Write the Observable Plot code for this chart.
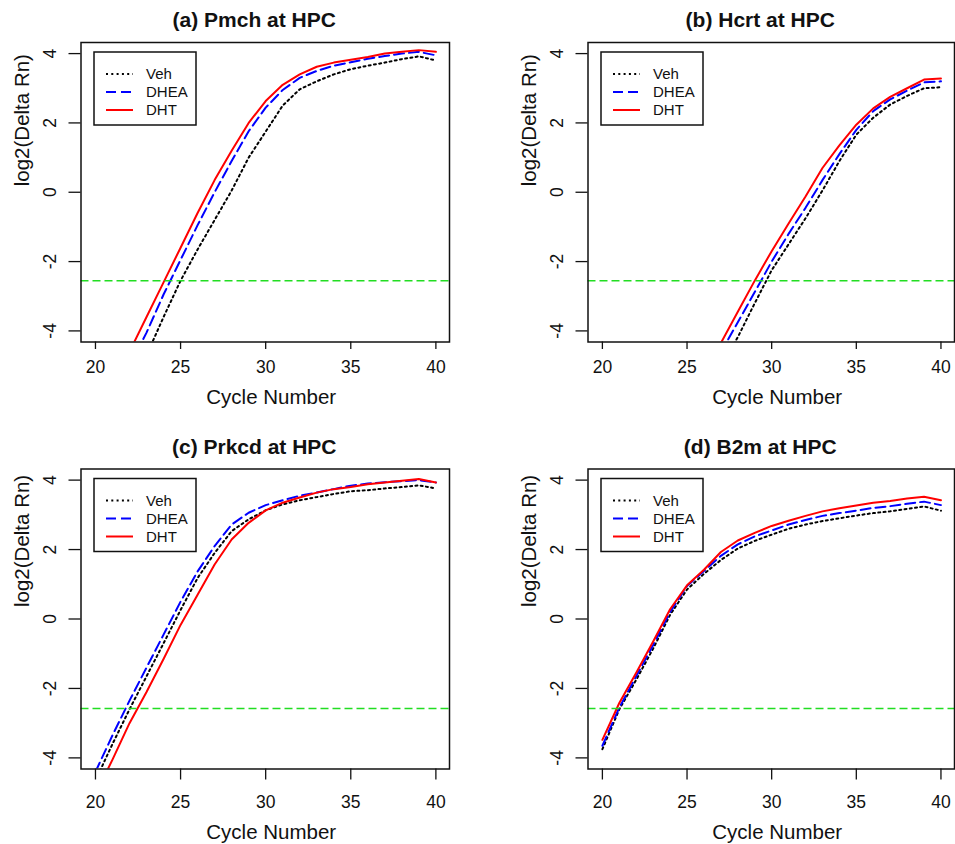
<!DOCTYPE html>
<html><head><meta charset="utf-8">
<script src="https://cdn.jsdelivr.net/npm/d3@7"></script>
<script src="https://cdn.jsdelivr.net/npm/@observablehq/plot@0.6"></script>
<style>
html,body{margin:0;padding:0;background:#fff;}
#root{position:relative;width:955px;height:844px;overflow:hidden;background:#fff;}
.panel{position:absolute;}
</style></head><body><div id="root"></div>
<script>
// ---- data ----
const cycles = [20,21,22,23,24,25,26,27,28,29,30,31,32,33,34,35,36,37,38,39,40];
const seriesNames = ["Veh","DHEA","DHT"];
const panelTitles = ["(a) Pmch at HPC","(b) Hcrt at HPC","(c) Prkcd at HPC","(d) B2m at HPC"];
const thresholds = [-2.55,-2.55,-2.58,-2.58];
const xTicks = [20,25,30,35,40];
const yTicks = [-4,-2,0,2,4];
const xLabel = "Cycle Number";
const yLabel = "log2(Delta Rn)";

const pmchVeh  = [null,null,null,-4.7,-3.6,-2.55,-1.65,-0.8,0.05,1.0,1.75,2.5,2.97,3.2,3.4,3.55,3.65,3.74,3.84,3.92,3.8];
const pmchDhea = [null,null,-5.0,-4.05,-2.95,-1.95,-0.95,0.0,0.9,1.76,2.44,2.95,3.3,3.5,3.65,3.75,3.85,3.93,4.0,4.05,3.95];
const pmchDht  = [null,null,-4.6,-3.6,-2.6,-1.6,-0.6,0.35,1.2,2.0,2.63,3.1,3.4,3.62,3.74,3.82,3.9,4.0,4.05,4.1,4.05];

const hcrtVeh  = [null,null,null,null,null,null,null,-5.05,-4.18,-3.2,-2.25,-1.5,-0.75,0.05,0.9,1.66,2.15,2.53,2.78,3.0,3.03];
const hcrtDhea = [null,null,null,null,null,null,null,-4.62,-3.75,-2.88,-2.0,-1.2,-0.45,0.35,1.1,1.8,2.34,2.68,2.93,3.17,3.2];
const hcrtDht  = [null,null,null,null,null,null,null,-4.35,-3.45,-2.55,-1.7,-0.9,-0.12,0.7,1.35,1.95,2.42,2.75,3.0,3.25,3.28];

const prkcdVeh  = [-4.65,-3.6,-2.6,-1.65,-0.7,0.26,1.18,1.9,2.53,2.87,3.13,3.3,3.42,3.51,3.6,3.68,3.71,3.76,3.8,3.85,3.76];
const prkcdDhea = [-4.4,-3.35,-2.35,-1.4,-0.45,0.5,1.37,2.1,2.72,3.06,3.28,3.42,3.55,3.64,3.74,3.84,3.9,3.94,3.97,4.0,3.93];
const prkcdDht  = [-5.05,-4.05,-3.0,-2.1,-1.15,-0.17,0.7,1.57,2.29,2.77,3.13,3.35,3.5,3.64,3.74,3.8,3.88,3.93,3.98,4.03,3.93];

const b2mVeh  = [-3.75,-2.6,-1.75,-0.85,0.12,0.85,1.3,1.7,2.03,2.25,2.43,2.6,2.72,2.82,2.9,2.98,3.05,3.1,3.17,3.24,3.12];
const b2mDhea = [-3.65,-2.55,-1.65,-0.75,0.2,0.95,1.38,1.82,2.15,2.38,2.55,2.72,2.85,2.97,3.05,3.12,3.2,3.25,3.32,3.38,3.28];
const b2mDht  = [-3.48,-2.42,-1.55,-0.65,0.28,0.97,1.42,1.93,2.26,2.48,2.68,2.83,2.97,3.1,3.19,3.27,3.35,3.4,3.47,3.52,3.42];

const panelSeries = [
  [pmchVeh, pmchDhea, pmchDht],
  [hcrtVeh, hcrtDhea, hcrtDht],
  [prkcdVeh, prkcdDhea, prkcdDht],
  [b2mVeh, b2mDhea, b2mDht]
];

// ---- styles / layout ----
const FONT = "'Liberation Sans', Arial, Helvetica, sans-serif";
const INK = "#111";
const seriesStyle = {
  Veh:  {stroke:"#000000", dash:"2,3.3"},
  DHEA: {stroke:"#0000ff", dash:"10,5"},
  DHT:  {stroke:"#ff0000", dash:null}
};
const layouts = [
  {left:0,   top:0,   width:478, height:426, mt:42,   mb:84.5, ml:80.5, mr:29, xTick:7.5, xLab:25, xTitle:55,   yTitleDy:-6},
  {left:507, top:0,   width:448, height:426, mt:42,   mb:84.5, ml:80.5, mr:1,  xTick:7.5, xLab:25, xTitle:55,   yTitleDy:-6},
  {left:0,   top:426, width:478, height:418, mt:42.5, mb:75.5, ml:80.5, mr:29, xTick:11,  xLab:33, xTitle:63.5, yTitleDy:-12},
  {left:507, top:426, width:448, height:418, mt:42.5, mb:75.5, ml:80.5, mr:1,  xTick:11,  xLab:33, xTitle:63.5, yTitleDy:-12}
];

const root = document.getElementById("root");

panelTitles.forEach((title, p) => {
  const L = layouts[p];
  const rows = [];
  seriesNames.forEach((s, k) => {
    panelSeries[p][k].forEach((v, i) => {
      if (v !== null) rows.push({series: s, cycle: cycles[i], value: v});
    });
  });
  const lineMarks = seriesNames.map(s => Plot.line(rows.filter(r => r.series === s), {
    x: "cycle", y: "value",
    stroke: seriesStyle[s].stroke, strokeWidth: 2,
    strokeDasharray: seriesStyle[s].dash || undefined,
    clip: true
  }));
  const fontSizeTick = 17.5;
  const svg = Plot.plot({
    width: L.width, height: L.height,
    marginTop: L.mt, marginBottom: L.mb, marginLeft: L.ml, marginRight: L.mr,
    style: {fontFamily: FONT, background: "white", overflow: "visible", color: INK},
    x: {domain: [19.15, 40.8]},
    y: {domain: [-4.32, 4.32]},
    marks: [
      ...lineMarks,
      Plot.ruleY([thresholds[p]], {stroke: "#22dd22", strokeWidth: 1.5, strokeDasharray: "8,4"}),
      Plot.frame({stroke: INK, strokeWidth: 1.5}),
      Plot.axisX({ticks: xTicks, tickSize: L.xTick, tickPadding: L.xLab - 6.2 - L.xTick,
                  fontSize: fontSizeTick, label: null, tickFormat: d => String(d), strokeWidth: 1.3}),
      Plot.axisY({ticks: yTicks, tickSize: 12, tickFormat: () => "", label: null, strokeWidth: 1.3}),
      Plot.text(yTicks, {y: d => d, text: d => String(d), frameAnchor: "left", dx: -30.5,
                  rotate: -90, fontSize: fontSizeTick, textAnchor: "middle", lineAnchor: "middle", fill: INK}),
      Plot.text([title], {text: d => d, frameAnchor: "top", dy: -22, dx: -11, fontSize: 21,
                  fontWeight: "bold", lineAnchor: "middle", fill: INK}),
      Plot.text([xLabel], {text: d => d, frameAnchor: "bottom", dy: L.xTitle, dx: 6, fontSize: 20.5,
                  lineAnchor: "middle", fill: INK}),
      Plot.text([yLabel], {text: d => d, frameAnchor: "left", dx: -58.5, dy: L.yTitleDy, rotate: -90,
                  fontSize: 20.5, lineAnchor: "middle", fill: INK})
    ]
  });

  // legend (box top-left inside the frame)
  const g = d3.select(svg).append("g").attr("font-family", FONT).attr("text-anchor", "start");
  const bx = L.ml + 13.5, by = L.mt + 10;
  g.append("rect").attr("x", bx).attr("y", by).attr("width", 102).attr("height", 73)
    .attr("fill", "white").attr("stroke", INK).attr("stroke-width", 1.5);
  seriesNames.forEach((s, i) => {
    const yy = by + 22 + i * 18;
    g.append("line").attr("x1", bx + 12).attr("x2", bx + 39).attr("y1", yy).attr("y2", yy)
      .attr("stroke", seriesStyle[s].stroke).attr("stroke-width", 2)
      .attr("stroke-dasharray", seriesStyle[s].dash || null);
    g.append("text").attr("x", bx + 52).attr("y", yy).attr("dy", "0.36em")
      .attr("text-anchor", "start")
      .attr("font-size", 15).attr("fill", INK).text(s);
  });

  const wrap = document.createElement("div");
  wrap.className = "panel";
  wrap.style.left = L.left + "px";
  wrap.style.top = L.top + "px";
  wrap.appendChild(svg);
  root.appendChild(wrap);
});
</script>
</body></html>
